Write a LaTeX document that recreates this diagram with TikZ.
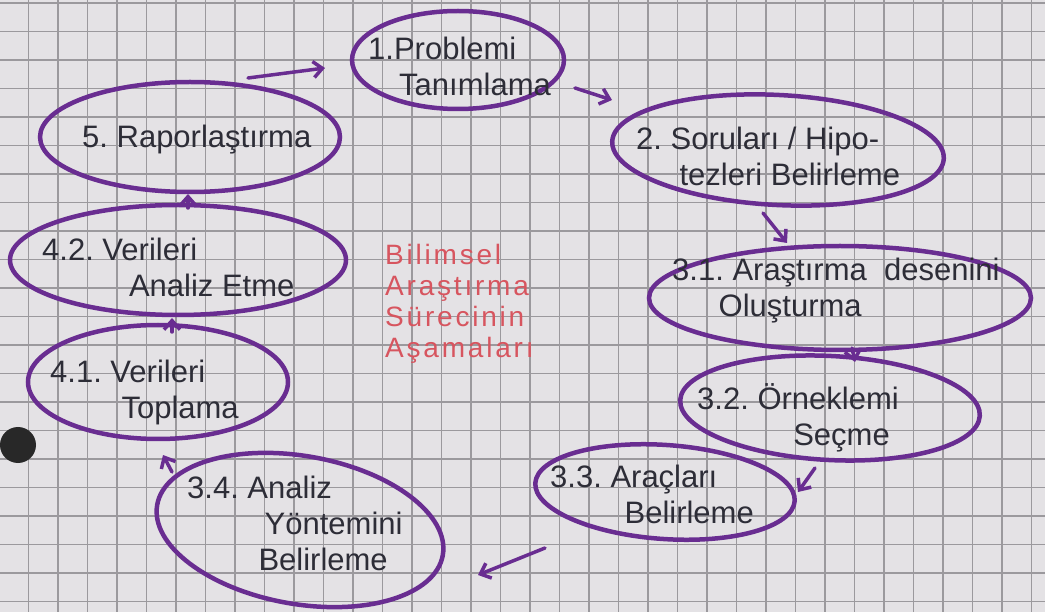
\documentclass[tikz,border=0pt]{standalone}
\usepackage{fontspec}
\setmainfont{Liberation Sans}
\newfontfamily\redfont{Liberation Sans}[LetterSpace=10]
\usetikzlibrary{shapes.geometric,arrows.meta,calc}
\definecolor{paper}{RGB}{228,226,229}
\definecolor{gridc}{RGB}{155,153,157}
\definecolor{ink}{RGB}{105,45,145}
\definecolor{pencil}{RGB}{45,45,55}
\definecolor{redink}{RGB}{215,85,95}
\definecolor{hole}{RGB}{40,40,40}
\begin{document}
\frenchspacing
\begin{tikzpicture}[x=1pt,y=-1pt,
  stage/.style={ellipse, draw=ink, line width=4.5pt, inner sep=0pt},
  lbl/.style={text=pencil, font=\fontsize{31}{36}\selectfont, align=left, anchor=west, inner sep=0pt},
  arr/.style={draw=ink, line width=3.5pt, line cap=round, -{Straight Barb[length=9pt,width=16pt]}}]
\useasboundingbox (0,0) rectangle (1045,612);
% paper and grid
\fill[paper] (0,0) rectangle (1045,612);
\foreach \i in {0,...,35} \draw[gridc, line width=1.1pt] ({29.5*\i-1},0) -- ({29.5*\i-1},612);
\foreach \j in {0,...,21} \draw[gridc, line width=1.1pt] (0,{3+28.5*\j}) -- (1045,{3+28.5*\j});
% punch hole
\fill[hole] (18,445) circle (18);
% stages
\node[stage, minimum width=212pt, minimum height=98pt] (n1) at (458,60) {};
\node[stage, minimum width=332pt, minimum height=110pt, rotate=-3] (n2) at (778,150) {};
\node[stage, minimum width=382pt, minimum height=104pt] (n31) at (840,298) {};
\node[stage, minimum width=300pt, minimum height=104pt, rotate=-3] (n32) at (830,408) {};
\node[stage, minimum width=260pt, minimum height=94pt, rotate=-4] (n33) at (665,492) {};
\node[stage, minimum width=290pt, minimum height=148pt, rotate=-10] (n34) at (300,530) {};
\node[stage, minimum width=260pt, minimum height=114pt] (n41) at (158,382) {};
\node[stage, minimum width=336pt, minimum height=110pt] (n42) at (178,260) {};
\node[stage, minimum width=300pt, minimum height=110pt] (n5) at (190,137) {};
% texts
\node[lbl] (t1) at (368,66) {1.Problemi\\\hspace*{1.0em}Tanımlama};
\node[lbl] (t2) at (636,156) {2. Soruları / Hipo-\\\hspace*{1.4em}tezleri Belirleme};
\node[lbl] (t31) at (672,291) {3.1. Araştırma \ desenini\\\hspace*{1.5em}Oluşturma};
\node[lbl] (t32) at (697,418) {3.2. Örneklemi\\\hspace*{3.1em}Seçme};
\node[lbl] (t33) at (550,494) {3.3. Araçları\\\hspace*{2.4em}Belirleme};
\node[lbl] (t34) at (187,523) {3.4. Analiz\\\hspace*{2.5em}Yöntemini\\\hspace*{2.3em}Belirleme};
\node[lbl] (t41) at (50,392) {4.1. Verileri\\\hspace*{2.3em}Toplama};
\node[lbl] (t42) at (42,267) {4.2. Verileri\\\hspace*{2.8em}Analiz Etme};
\node[lbl] (t5) at (82,140) {5. Raporlaştırma};
\node[text=redink, font=\redfont\fontsize{28}{31}\selectfont, align=left, anchor=north west, inner sep=0pt] (title) at (385,244) {Bilimsel\\Araştırma\\Sürecinin\\Aşamaları};
% connectors
\draw[arr] ($(n5.center)+(58,-59)$) -- ($(n1.center)+(-133,8)$);
\draw[arr] ($(n1.center)+(117,28)$) -- ($(n2.center)+(-166,-50)$);
\draw[arr] ($(n2.center)+(-15,63)$) -- ($(n31.center)+(-53,-55)$);
\draw[arr] ($(n31.center)+(12,50)$) -- ($(n32.center)+(25,-46)$);
\draw[arr] ($(n32.center)+(-15,60)$) -- ($(n33.center)+(133,0)$);
\draw[arr] ($(n33.center)+(-120,56)$) -- ($(n34.center)+(178,45)$);
\draw[arr] ($(n34.center)+(-128,-58)$) -- ($(n41.center)+(5,73)$);
\draw[arr] ($(n41.center)+(14,-50)$) -- ($(n42.center)+(-6,58)$);
\draw[arr] ($(n42.center)+(10,-52)$) -- ($(n5.center)+(-2,57)$);
\end{tikzpicture}
\end{document}
